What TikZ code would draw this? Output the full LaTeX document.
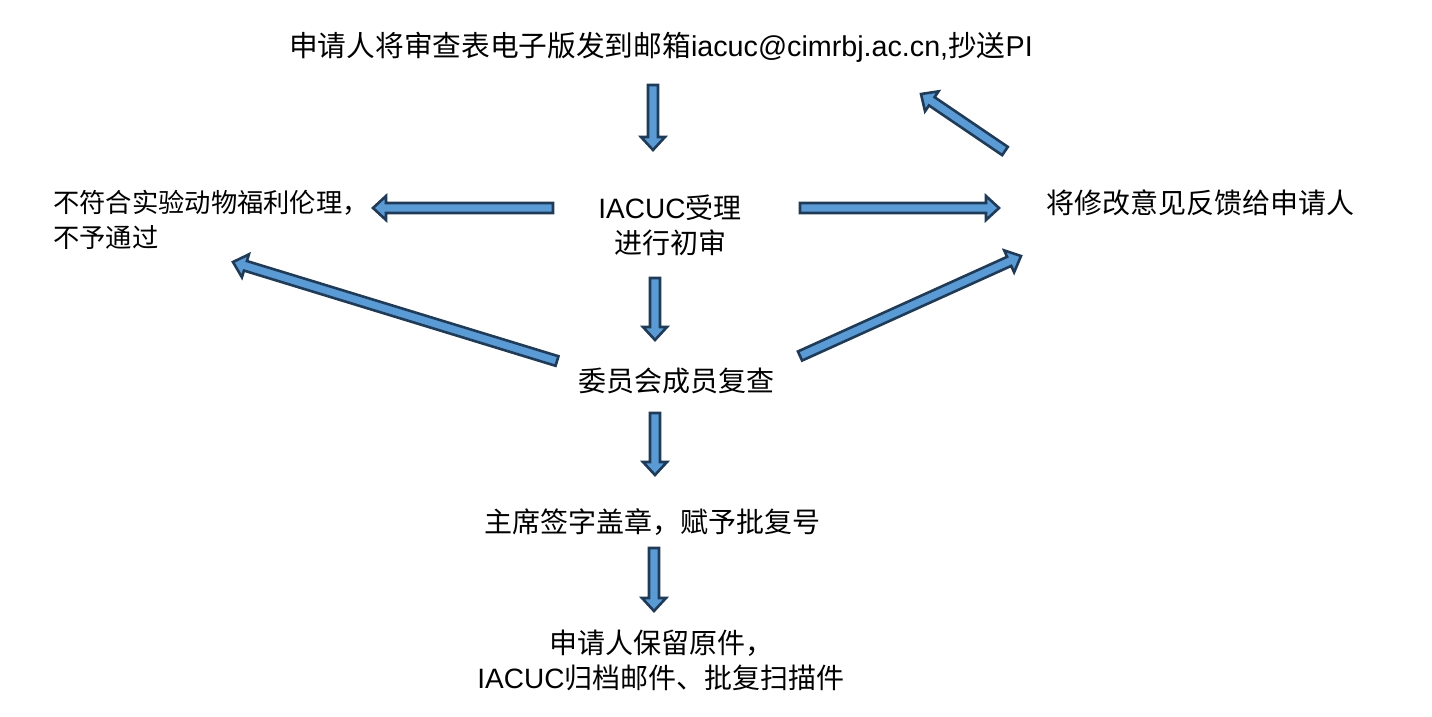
\documentclass[tikz,border=0pt]{standalone}
\usepackage{fontspec}
\setmainfont{Noto Sans CJK SC}
\newfontfamily\latinfont{Liberation Sans}
\usetikzlibrary{calc}

\definecolor{arrowfill}{HTML}{5B9BD5}
\definecolor{arrowline}{HTML}{1F3B57}
\newcommand\lat[1]{{\latinfont #1}}
% block arrow from #1 to #2
\newcommand\blockarrow[2]{%
  \coordinate (neck) at ($(#2)!13pt!(#1)$);
  \draw[blockarrow] ($(#1)!5pt!90:(#2)$) -- ($(neck)!5pt!90:(#2)$)
    -- ($(neck)!12pt!90:(#2)$) -- (#2) -- ($(neck)!12pt!-90:(#2)$)
    -- ($(neck)!5pt!-90:(#2)$) -- ($(#1)!5pt!-90:(#2)$) -- cycle;}

\begin{document}
\begin{tikzpicture}[x=1pt, y=-1pt,
  lbl/.style={font=\fontsize{28}{35}\selectfont, inner sep=0pt, align=center},
  blockarrow/.style={fill=arrowfill, draw=arrowline, line width=2.6pt,
    line join=miter}]
  \useasboundingbox (0,0) rectangle (1432,716);

  % steps
  \node (submit) [lbl, font=\fontsize{28.7}{35}\selectfont] at (661,47)
    {申请人将审查表电子版发到邮箱\lat{iacuc@cimrbj.ac.cn,}抄送\lat{PI}};
  \node (accept) [lbl] at (670,225) {\lat{IACUC}受理\\进行初审};
  \node (reject) [lbl, font=\fontsize{26.3}{35}\selectfont, align=left,
    anchor=west] at (53,220)
    {不符合实验动物福利伦理，\\不予通过};
  \node (feedback) [lbl] at (1200,203) {将修改意见反馈给申请人};
  \node (review) [lbl] at (676,381) {委员会成员复查};
  \node (sign) [lbl] at (652,522) {主席签字盖章，赋予批复号};
  \node (archive) [lbl] at (661,660)
    {申请人保留原件，\\\lat{IACUC}归档邮件、批复扫描件};

  % arrow ends
  \coordinate (submit-out) at (653,85);
  \coordinate (accept-in) at (653,150);
  \coordinate (accept-left) at (553,208);
  \coordinate (reject-in) at (373,208);
  \coordinate (accept-right) at (800,208);
  \coordinate (feedback-in) at (999,208);
  \coordinate (accept-out) at (655,278);
  \coordinate (review-in) at (655,340);
  \coordinate (review-left) at (557,361);
  \coordinate (reject-in2) at (233,262);
  \coordinate (review-right) at (800,356);
  \coordinate (feedback-in2) at (1021,256);
  \coordinate (feedback-out) at (1005,151);
  \coordinate (submit-in) at (921,94);
  \coordinate (review-out) at (655,413);
  \coordinate (sign-in) at (655,475);
  \coordinate (sign-out) at (654,548);
  \coordinate (archive-in) at (654,611);

  % flow
  \blockarrow{submit-out}{accept-in}
  \blockarrow{accept-left}{reject-in}
  \blockarrow{accept-right}{feedback-in}
  \blockarrow{accept-out}{review-in}
  \blockarrow{review-left}{reject-in2}
  \blockarrow{review-right}{feedback-in2}
  \blockarrow{feedback-out}{submit-in}
  \blockarrow{review-out}{sign-in}
  \blockarrow{sign-out}{archive-in}
\end{tikzpicture}
\end{document}
